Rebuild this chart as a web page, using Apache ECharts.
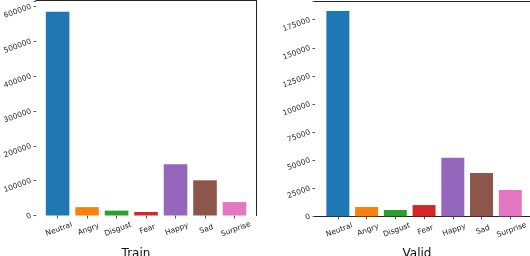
<!DOCTYPE html>
<html><head><meta charset="utf-8">
<script src="https://cdn.jsdelivr.net/npm/echarts@6/dist/echarts.min.js"></script>
<style>html,body{margin:0;padding:0;background:#fff}#c{width:530px;height:256px}</style>
</head><body><div id="c"></div>
<script>
const categories = ['Neutral','Angry','Disgust','Fear','Happy','Sad','Surprise'];
const trainCounts = [585000, 24000, 14000, 10000, 147000, 101000, 38500];
const validCounts = [182700, 8300, 5600, 10000, 52100, 38500, 23400];
const trainTicks = [0, 100000, 200000, 300000, 400000, 500000, 600000];
const validTicks = [0, 25000, 50000, 75000, 100000, 125000, 150000, 175000];
const palette = ['#1f77b4','#ff7f0e','#2ca02c','#d62728','#9467bd','#8c564b','#e377c2'];
const titles = ['Train','Valid'];

const ink = '#262626';
const font = 'DejaVu Sans';
const chart = echarts.init(document.getElementById('c'), null, {renderer:'canvas'});

function catAxis(gi){
  return {type:'category', gridIndex:gi, data:categories,
    axisLine:{show:false},
    axisTick:{show:true, alignWithLabel:true, length:3, lineStyle:{color:ink, width:0.8}},
    axisLabel:{rotate:20, align:'center', verticalAlign:'top', margin:10, fontSize:7.5, fontFamily:font, color:ink, interval:0}
  };
}
function valAxis(gi, max, interval, ticks, offset){
  return {type:'value', gridIndex:gi, min:0, max:max, interval:interval, offset:offset,
    splitLine:{show:false}, axisLine:{show:false},
    axisTick:{show:true, length:2.5, lineStyle:{color:ink, width:0.8}},
    axisLabel:{rotate:20, margin:5, fontSize:7.5, fontFamily:font, color:ink,
      formatter:v => ticks.indexOf(v) >= 0 ? String(v) : ''}
  };
}
const hidden = gi => ({type:'value', gridIndex:gi, min:0, max:1, show:false});
const frameLine = (gi, type, pos) => ({type:'value', gridIndex:gi, min:0, max:1, position:pos,
  axisLine:{show:true, onZero:false, lineStyle:{color:'#222', width:1}},
  axisTick:{show:false}, axisLabel:{show:false}, splitLine:{show:false}});

chart.setOption({
  animation:false,
  color: palette,
  title:[
    {text:titles[0], left:131, top:243, textAlign:'center', textStyle:{fontFamily:font, fontSize:12, fontWeight:'normal', color:'#111'}},
    {text:titles[1], left:412, top:243, textAlign:'center', textStyle:{fontFamily:font, fontSize:12, fontWeight:'normal', color:'#111'}}
  ],
  grid:[
    {left:42.75, right:280.75, top:0, bottom:40.5},
    {left:323.5, right:-0.5, top:1, bottom:39.7},
    {left:36, right:274, top:0.5, bottom:40.5},
    {left:315, right:-10, top:1, bottom:39.7}
  ],
  xAxis:[
    catAxis(0), catAxis(1),
    frameLine(2,'x','top'),
    frameLine(3,'x','top'),
    frameLine(3,'x','bottom')
  ],
  yAxis:[
    valAxis(0, 615500, 100000, trainTicks, 6.75),
    valAxis(1, 191600, 25000, validTicks, 8.5),
    frameLine(2,'y','right'),
    hidden(3)
  ],
  series:[
    {type:'bar', xAxisIndex:0, yAxisIndex:0, data:trainCounts, colorBy:'data', barCategoryGap:'20%'},
    {type:'bar', xAxisIndex:1, yAxisIndex:1, data:validCounts, colorBy:'data', barCategoryGap:'20%'}
  ]
});
</script></body></html>
